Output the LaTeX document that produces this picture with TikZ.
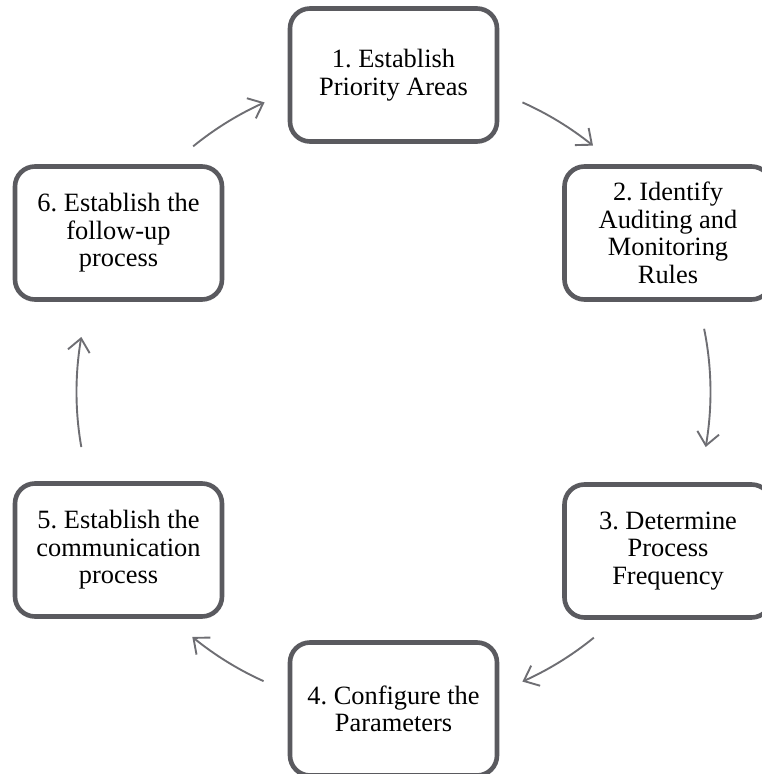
\documentclass[tikz,border=0pt]{standalone}
\usepackage{fontspec}
\setmainfont{Liberation Serif}
\usetikzlibrary{arrows.meta,bending,calc}

\definecolor{boxline}{HTML}{5A5A5F}
\definecolor{arcline}{HTML}{6E6E73}

\tikzset{
  stepbox/.style={
    draw=boxline, line width=4.6pt, rounded corners=20pt, fill=white,
    minimum width=207pt, minimum height=133pt, inner sep=0pt,
    align=center, text=black,
    font=\fontsize{26.4}{27.6}\selectfont\frenchspacing
  },
  cyclearrow/.style={
    draw=arcline, line width=1.9pt,
    -{Straight Barb[length=13pt,width=22pt,flex]}
  }
}

\begin{document}
\frenchspacing
\begin{tikzpicture}[x=1pt,y=1pt]
  \useasboundingbox (0,0) rectangle (762,774);
  \clip (0,0) rectangle (762,774);

  % centre of the cycle
  \coordinate (c) at (393.5,382);

  % the six steps
  \node[stepbox] (s1) at (393.5,699) {1. Establish\\Priority Areas};
  \node[stepbox] (s2) at (668,541)   {2. Identify\\Auditing and\\Monitoring\\Rules};
  \node[stepbox] (s3) at (668,223)   {3. Determine\\Process\\Frequency};
  \node[stepbox] (s4) at (393.5,65)  {4. Configure the\\Parameters};
  \node[stepbox] (s5) at (118.5,224) {5. Establish the\\communication\\process};
  \node[stepbox] (s6) at (118.5,541) {6. Establish the\\follow-up\\process};

  % start points of the connecting arcs
  \coordinate (a12) at ($(c)+(66:317)$);
  \coordinate (a23) at ($(c)+(11.5:317)$);
  \coordinate (a34) at ($(c)+(-50.8:317)$);
  \coordinate (a45) at ($(c)+(-114.2:317)$);
  \coordinate (a56) at ($(c)+(190:317)$);
  \coordinate (a61) at ($(c)+(129.2:317)$);

  % arcs running clockwise round the centre
  \draw[cyclearrow] (a12) arc[start angle=66,    end angle=51,     radius=317];
  \draw[cyclearrow] (a23) arc[start angle=11.5,  end angle=-10,    radius=317];
  \draw[cyclearrow] (a34) arc[start angle=-50.8, end angle=-66,    radius=317];
  \draw[cyclearrow] (a45) arc[start angle=-114.2,end angle=-129.4, radius=317];
  \draw[cyclearrow] (a56) arc[start angle=190,   end angle=170,    radius=317];
  \draw[cyclearrow] (a61) arc[start angle=129.2, end angle=114,    radius=317];
\end{tikzpicture}
\end{document}
